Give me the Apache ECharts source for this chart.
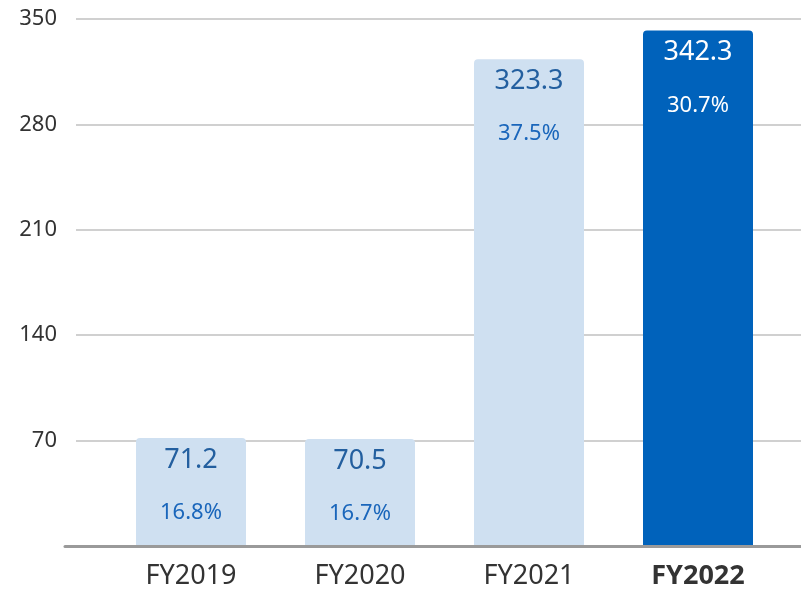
<!DOCTYPE html>
<html>
<head>
<meta charset="utf-8">
<script src="https://cdn.jsdelivr.net/npm/echarts@6/dist/echarts.min.js"></script>
<style>
html,body{margin:0;padding:0;background:#fff;}
#c{width:801px;height:590px;}
</style>
</head>
<body>
<div id="c"></div>
<script>
const categories = ['FY2019', 'FY2020', 'FY2021', 'FY2022'];
const values = [71.2, 70.5, 323.3, 342.3];
const percents = ['16.8%', '16.7%', '37.5%', '30.7%'];
const highlightIndex = 3;
const yTicks = { min: 0, max: 350, interval: 70 };

const LIGHT = '#cfe0f1', DARK = '#0062bb';
const FONT = '"Noto Sans", "Open Sans", sans-serif';

const chart = echarts.init(document.getElementById('c'), null, { renderer: 'canvas' });
chart.setOption({
  animation: false,
  textStyle: { fontFamily: FONT },
  grid: [
    { left: 106.5, right: 18.5, top: 19, bottom: 44 },
    { left: 76, right: 0, top: 19, bottom: 44 },
    { left: 65, right: 0, top: 19, bottom: 44 }
  ],
  xAxis: [
    {
      type: 'category', gridIndex: 0, data: categories,
      axisLine: { show: false }, axisTick: { show: false },
      axisLabel: {
        interval: 0, hideOverlap: false,
        margin: 18, fontSize: 27, color: '#333', fontFamily: FONT,
        formatter: (v, i) => i === highlightIndex ? '{b|' + v + '}' : v,
        rich: { b: { fontSize: 27, fontWeight: 'bold', color: '#333', fontFamily: FONT } }
      }
    },
    { type: 'value', gridIndex: 1, show: false, min: 0, max: 1 },
    {
      type: 'value', gridIndex: 2, min: 0, max: 1, z: 10,
      axisLine: { show: true, lineStyle: { color: '#9a9a9a', width: 3 } },
      axisTick: { show: false }, axisLabel: { show: false }, splitLine: { show: false }
    }
  ],
  yAxis: [
    { type: 'value', gridIndex: 0, show: false, min: yTicks.min, max: yTicks.max, interval: yTicks.interval },
    {
      type: 'value', gridIndex: 1, min: yTicks.min, max: yTicks.max, interval: yTicks.interval,
      axisLine: { show: false }, axisTick: { show: false },
      axisLabel: {
        margin: 19, fontSize: 22, color: '#333', fontFamily: FONT,
        formatter: v => v === 0 ? '' : String(v)
      },
      splitLine: { show: true, lineStyle: { color: '#d0d0d0', width: 2 } }
    },
    { type: 'value', gridIndex: 2, show: false, min: yTicks.min, max: yTicks.max }
  ],
  series: [{
    type: 'bar',
    xAxisIndex: 0, yAxisIndex: 0,
    barWidth: 110,
    data: values.map((v, i) => ({
      value: v,
      itemStyle: { color: i === highlightIndex ? DARK : LIGHT, borderRadius: [4, 4, 0, 0] },
      label: {
        rich: {
          v: { fontSize: 27, lineHeight: 34, color: i === highlightIndex ? '#ffffff' : '#235f9f', fontFamily: FONT, align: 'center' },
          p: { fontSize: 22, lineHeight: 72, color: i === highlightIndex ? '#ffffff' : '#1a66bb', fontFamily: FONT, align: 'center' }
        }
      }
    })),
    label: {
      show: true,
      position: 'insideTop',
      distance: 5,
      formatter: p => '{v|' + values[p.dataIndex].toFixed(1) + '}\n{p|' + percents[p.dataIndex] + '}'
    }
  }]
});
</script>
</body>
</html>
